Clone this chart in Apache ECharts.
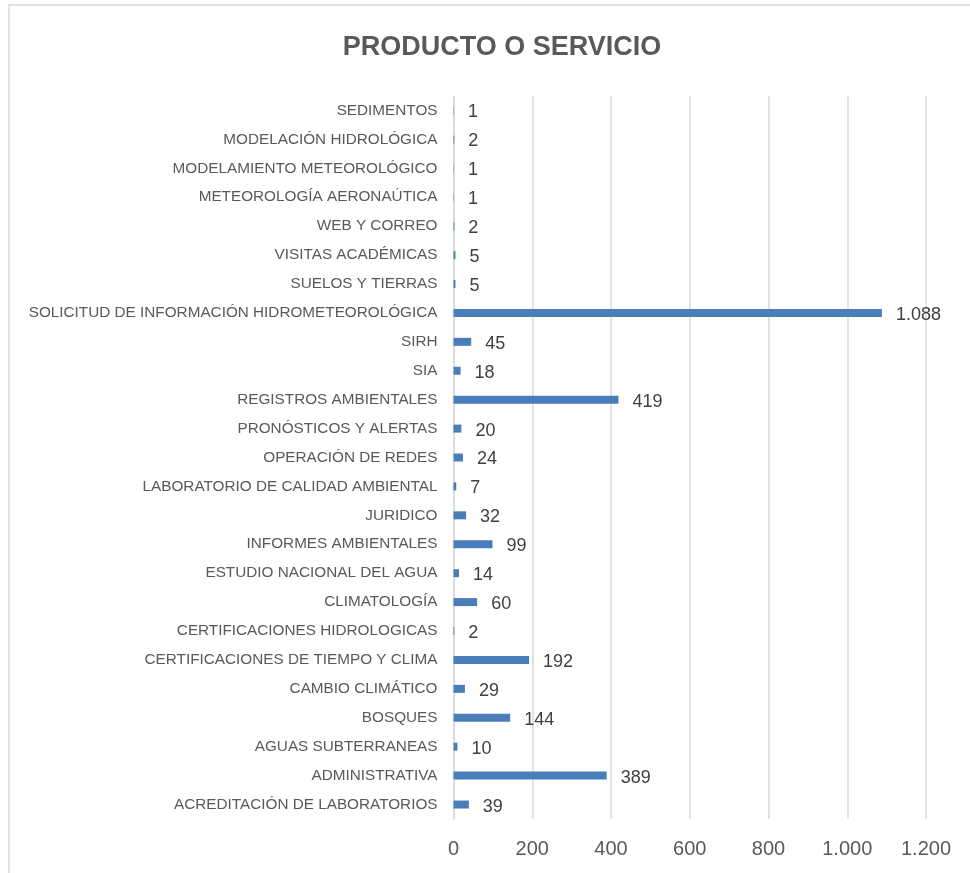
<!DOCTYPE html>
<html>
<head>
<meta charset="utf-8">
<script src="https://cdn.jsdelivr.net/npm/echarts@6/dist/echarts.min.js"></script>
<style>
  html, body { margin: 0; padding: 0; background: #fff; }
  #chart { width: 970px; height: 873px; }
</style>
</head>
<body>
<div id="chart"></div>
<script>
// categorias de abajo hacia arriba
var categorias = [
  'ACREDITACIÓN DE LABORATORIOS',
  'ADMINISTRATIVA',
  'AGUAS SUBTERRANEAS',
  'BOSQUES',
  'CAMBIO CLIMÁTICO',
  'CERTIFICACIONES DE TIEMPO Y CLIMA',
  'CERTIFICACIONES HIDROLOGICAS',
  'CLIMATOLOGÍA',
  'ESTUDIO NACIONAL DEL AGUA',
  'INFORMES AMBIENTALES',
  'JURIDICO',
  'LABORATORIO DE CALIDAD AMBIENTAL',
  'OPERACIÓN DE REDES',
  'PRONÓSTICOS Y ALERTAS',
  'REGISTROS AMBIENTALES',
  'SIA',
  'SIRH',
  'SOLICITUD DE INFORMACIÓN HIDROMETEOROLÓGICA',
  'SUELOS Y TIERRAS',
  'VISITAS ACADÉMICAS',
  'WEB Y CORREO',
  'METEOROLOGÍA AERONAÚTICA',
  'MODELAMIENTO METEOROLÓGICO',
  'MODELACIÓN HIDROLÓGICA',
  'SEDIMENTOS'
];
var valores = [39, 389, 10, 144, 29, 192, 2, 60, 14, 99, 32, 7, 24, 20, 419, 18, 45, 1088, 5, 5, 2, 1, 1, 2, 1];

var fuente = '"Liberation Sans", Arial, sans-serif';

// separador de miles con punto
function miles(v) {
  return String(v).replace(/\B(?=(\d{3})+(?!\d))/g, '.');
}

var chart = echarts.init(document.getElementById('chart'));
chart.setOption({
  backgroundColor: '#fff',
  animation: false,
  textStyle: { fontFamily: fuente },
  title: {
    text: 'PRODUCTO O SERVICIO',
    left: 497,
    textAlign: 'center',
    top: 29,
    textStyle: { fontFamily: fuente, fontSize: 27, fontWeight: 'bold', color: '#595959' }
  },
  graphic: [{
    type: 'rect',
    shape: { x: 9, y: 5, width: 1000, height: 1000 },
    style: { fill: 'none', stroke: '#d9d9d9', lineWidth: 1.5 },
    silent: true
  }],
  grid: { left: 453.5, right: 44, top: 96, bottom: 54, outerBoundsMode: 'none' },
  xAxis: {
    type: 'value',
    min: 0,
    max: 1200,
    interval: 200,
    axisLine: { show: false },
    axisTick: { show: false },
    splitLine: { lineStyle: { color: '#d9d9d9', width: 1.5 } },
    axisLabel: {
      margin: 20,
      fontSize: 20,
      color: '#595959',
      formatter: miles
    }
  },
  yAxis: {
    type: 'category',
    data: categorias,
    axisLine: { show: true, lineStyle: { color: '#d9d9d9', width: 1.5 } },
    axisTick: { show: false },
    axisLabel: { margin: 16, fontSize: 15.3, color: '#595959', padding: [0, 0, 4, 0] }
  },
  series: [{
    type: 'bar',
    data: valores,
    barWidth: 8,
    itemStyle: { color: '#4a7ebb' },
    label: {
      show: true,
      position: 'right',
      distance: 14,
      offset: [0, 2],
      fontSize: 18,
      color: '#404040',
      formatter: function (p) { return miles(p.value); }
    }
  }]
});
</script>
</body>
</html>
